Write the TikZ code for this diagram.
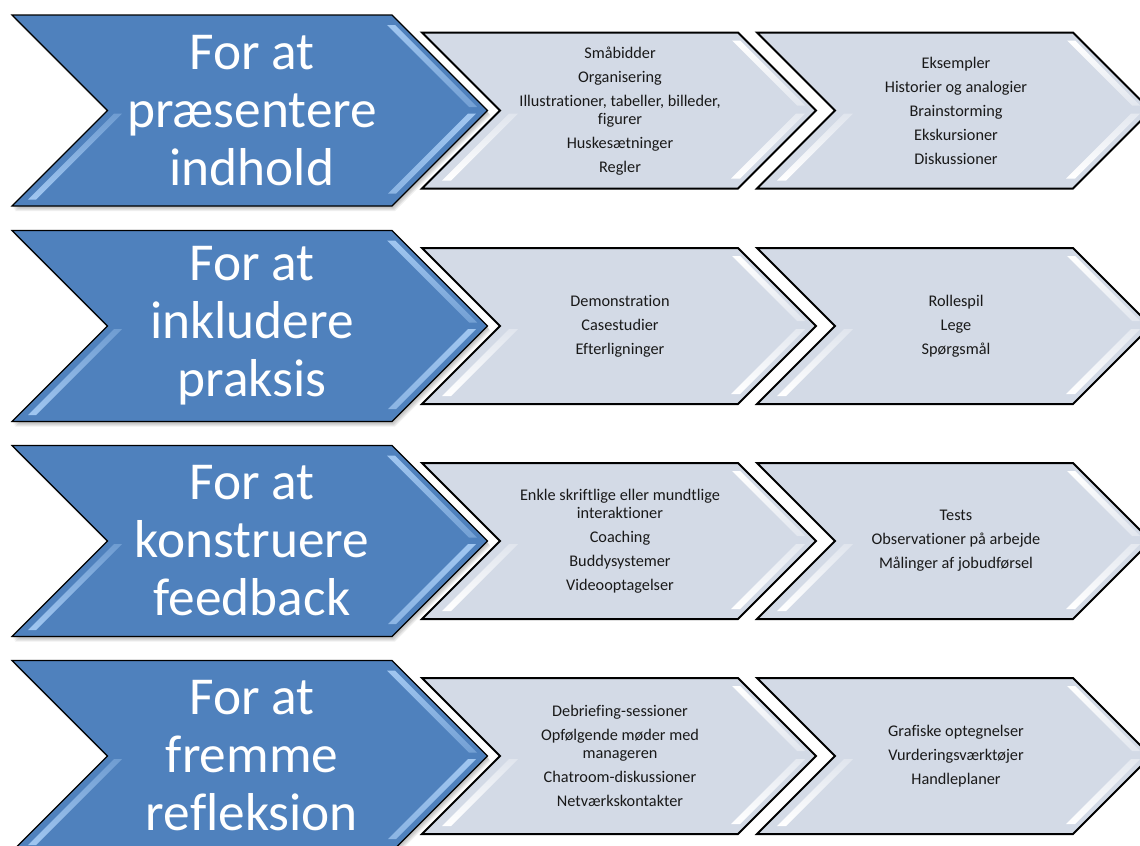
\documentclass[tikz,border=0pt]{standalone}
\usepackage{fontspec}
\setmainfont{Carlito}[Ligatures=NoCommon]
\definecolor{chevblue}{RGB}{79,129,189}
\definecolor{bevelblue}{RGB}{160,198,240}
\definecolor{chevgrey}{RGB}{211,218,230}
\tikzset{
  headtext/.style={text=white, align=center, font=\fontsize{40}{43.5}\selectfont, inner sep=0pt},
  itemtext/.style={text=black!90, align=center, font=\fontsize{12.2}{13.5}\selectfont, inner sep=0pt},
  blueedge/.style={draw=black, line width=0.9pt, line join=miter},
  greyedge/.style={draw=black, line width=1.5pt, line join=miter},
}
% Blue heading chevron; #1 = centre y
\newcommand\bluechev[1]{%
  \foreach \s in {1,...,5}{
    \fill[black,opacity=0.06] (12+\s*0.6,#1-95.5+\s*1.0) -- ++(380,0) -- ++(95.5,95.5)
      -- ++(-95.5,95.5) -- ++(-380,0) -- ++(95.5,-95.5) -- cycle;}
  \fill[chevblue] (12,#1-95.5) -- (392,#1-95.5) -- (487.5,#1) -- (392,#1+95.5)
    -- (12,#1+95.5) -- (107.5,#1) -- cycle;
  % bevel highlights
  \shade[top color=bevelblue, bottom color=chevblue!55!bevelblue]
    (387,#1-85.5) -- (395,#1-85.5) -- (477,#1-3.5) -- (469,#1-3.5) -- cycle;
  \shade[top color=bevelblue, bottom color=bevelblue!75!chevblue]
    (468,#1+3) -- (476,#1+3) -- (396,#1+83) -- (388,#1+83) -- cycle;
  \shade[top color=chevblue!60!bevelblue, bottom color=bevelblue]
    (114,#1+3) -- (122,#1+3) -- (36,#1+89) -- (28,#1+89) -- cycle;
  \draw[blueedge] (12,#1-95.5) -- (392,#1-95.5) -- (487.5,#1) -- (392,#1+95.5)
    -- (12,#1+95.5) -- (107.5,#1) -- cycle;
}
% Light content chevron; #1 = left x, #2 = centre y
\newcommand\greychev[2]{%
  \fill[chevgrey] (#1,#2-78) -- (#1+316,#2-78) -- (#1+394,#2) -- (#1+316,#2+78)
    -- (#1,#2+78) -- (#1+78,#2) -- cycle;
  \shade[top color=white, bottom color=white!35!chevgrey]
    (#1+310,#2-70) -- (#1+318,#2-70) -- (#1+383,#2-5) -- (#1+375,#2-5) -- cycle;
  \shade[top color=white!40!chevgrey, bottom color=white]
    (#1+374,#2+3) -- (#1+383,#2+3) -- (#1+318,#2+68) -- (#1+309,#2+68) -- cycle;
  \shade[top color=white!30!chevgrey, bottom color=white]
    (#1+87,#2+3) -- (#1+96,#2+3) -- (#1+29,#2+70) -- (#1+20,#2+70) -- cycle;
  \draw[greyedge] (#1,#2-78) -- (#1+316,#2-78) -- (#1+394,#2) -- (#1+316,#2+78)
    -- (#1,#2+78) -- (#1+78,#2) -- cycle;
}
\begin{document}
\begin{tikzpicture}[x=0.75pt,y=-0.75pt]
\useasboundingbox (0,0) rectangle (1140,846);
\clip (0,0) rectangle (1140,846);
\fill[white] (0,0) rectangle (1140,846);

% row 1
\bluechev{110.5}
\greychev{422}{110.5}
\greychev{757}{110.5}
\node[headtext] (h1) at (252,110.5) {For at\\præsentere\\indhold};
\node[itemtext] (a1) at (620,111) {Småbidder\\[4.5pt]Organisering\\[4.5pt]Illustrationer, tabeller, billeder,\\figurer\\[4.5pt]Huskesætninger\\[4.5pt]Regler};
\node[itemtext] (b1) at (956,111) {Eksempler\\[4.5pt]Historier og analogier\\[4.5pt]Brainstorming\\[4.5pt]Ekskursioner\\[4.5pt]Diskussioner};

% row 2
\bluechev{326}
\greychev{422}{326}
\greychev{757}{326}
\node[headtext] (h2) at (252,326) {For at\\inkludere\\praksis};
\node[itemtext] (a2) at (620,326) {Demonstration\\[4.5pt]Casestudier\\[4.5pt]Efterligninger};
\node[itemtext] (b2) at (956,326) {Rollespil\\[4.5pt]Lege\\[4.5pt]Spørgsmål};

% row 3
\bluechev{541}
\greychev{422}{541}
\greychev{757}{541}
\node[headtext] (h3) at (252,541) {For at\\konstruere\\feedback};
\node[itemtext] (a3) at (620,541) {Enkle skriftlige eller mundtlige\\interaktioner\\[4.5pt]Coaching\\[4.5pt]Buddysystemer\\[4.5pt]Videooptagelser};
\node[itemtext] (b3) at (956,541) {Tests\\[4.5pt]Observationer på arbejde\\[4.5pt]Målinger af jobudførsel};

% row 4
\bluechev{756}
\greychev{422}{756}
\greychev{757}{756}
\node[headtext] (h4) at (252,756) {For at\\fremme\\refleksion};
\node[itemtext] (a4) at (620,756) {Debriefing-sessioner\\[4.5pt]Opfølgende møder med\\manageren\\[4.5pt]Chatroom-diskussioner\\[4.5pt]Netværkskontakter};
\node[itemtext] (b4) at (956,756) {Grafiske optegnelser\\[4.5pt]Vurderingsværktøjer\\[4.5pt]Handleplaner};
\end{tikzpicture}
\end{document}
